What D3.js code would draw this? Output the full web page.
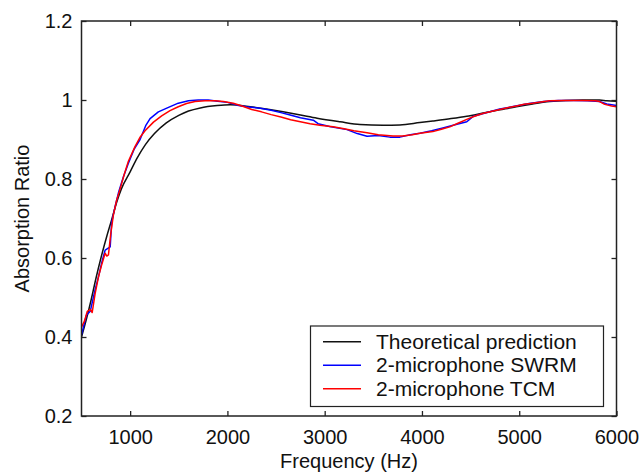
<!DOCTYPE html>
<html>
<head>
<meta charset="utf-8">
<script src="https://cdn.jsdelivr.net/npm/d3@7"></script>
<style>
  html, body { margin: 0; padding: 0; background: #fff; }
  svg { display: block; font-family: Arial, "Liberation Sans", Helvetica, sans-serif; }
</style>
</head>
<body>
<svg id="chart" width="642" height="476"></svg>
<script>
// ---- data ----
const xTicks = [1000, 2000, 3000, 4000, 5000, 6000];
const yTicks = [0.2, 0.4, 0.6, 0.8, 1.0, 1.2];
const yTickLabels = ["0.2", "0.4", "0.6", "0.8", "1", "1.2"];

const theoFreq = [500, 550, 600, 650, 705, 760, 808, 860, 910, 1000, 1070, 1157, 1250, 1372, 1500, 1600, 1721, 1895, 2029, 2234, 2400, 2573, 2750, 2922, 3158, 3363, 3600, 3773, 3979, 4112, 4300, 4461, 4630, 4800, 4970, 5138, 5313, 5480, 5651, 5826, 5900, 6000];
const theoVals = [0.40, 0.445, 0.495, 0.55, 0.605, 0.655, 0.695, 0.74, 0.775, 0.818, 0.852, 0.887, 0.915, 0.942, 0.961, 0.972, 0.980, 0.986, 0.988, 0.983, 0.977, 0.970, 0.962, 0.954, 0.945, 0.938, 0.936, 0.937, 0.943, 0.947, 0.953, 0.959, 0.967, 0.975, 0.983, 0.990, 0.996, 0.999, 1.0, 1.0, 0.998, 0.997];

const swrmFreq = [500, 520, 550, 590, 640, 675, 710, 743, 795, 810, 850, 880, 930, 982, 1040, 1102, 1160, 1205, 1290, 1400, 1495, 1600, 1700, 1803, 1900, 2000, 2100, 2200, 2337, 2450, 2550, 2645, 2750, 2883, 2932, 3050, 3230, 3335, 3435, 3550, 3670, 3773, 3880, 3979, 4100, 4215, 4350, 4461, 4523, 4650, 4800, 4950, 5100, 5250, 5400, 5550, 5700, 5826, 5900, 6000];
const swrmVals = [0.405, 0.425, 0.455, 0.465, 0.52, 0.553, 0.59, 0.62, 0.628, 0.69, 0.735, 0.765, 0.805, 0.84, 0.875, 0.9, 0.935, 0.953, 0.97, 0.982, 0.992, 0.998, 1.0, 1.0, 0.997, 0.994, 0.987, 0.983, 0.979, 0.974, 0.968, 0.962, 0.955, 0.949, 0.94, 0.933, 0.925, 0.915, 0.908, 0.91, 0.906, 0.906, 0.912, 0.916, 0.922, 0.929, 0.938, 0.945, 0.958, 0.967, 0.977, 0.984, 0.991, 0.996, 0.999, 0.999, 0.998, 0.996, 0.99, 0.986];

const tcmFreq = [500, 530, 560, 590, 610, 640, 675, 710, 743, 760, 777, 800, 828, 860, 897, 940, 982, 1050, 1100, 1153, 1240, 1324, 1410, 1495, 1580, 1667, 1770, 1872, 1960, 2060, 2150, 2250, 2350, 2450, 2550, 2650, 2750, 2850, 2950, 3086, 3200, 3300, 3435, 3550, 3702, 3800, 3900, 3979, 4112, 4200, 4286, 4370, 4461, 4540, 4625, 4710, 4800, 4890, 4974, 5050, 5138, 5220, 5313, 5450, 5651, 5780, 5826, 5870, 5910, 5950, 6000];
const tcmVals = [0.425, 0.44, 0.465, 0.47, 0.462, 0.51, 0.553, 0.585, 0.612, 0.605, 0.608, 0.66, 0.709, 0.745, 0.775, 0.812, 0.845, 0.882, 0.905, 0.922, 0.944, 0.960, 0.973, 0.983, 0.991, 0.996, 0.998, 0.998, 0.996, 0.992, 0.985, 0.976, 0.97, 0.963, 0.957, 0.95, 0.945, 0.94, 0.936, 0.932, 0.927, 0.922, 0.917, 0.912, 0.909, 0.909, 0.912, 0.916, 0.920, 0.926, 0.932, 0.941, 0.951, 0.959, 0.966, 0.971, 0.976, 0.981, 0.985, 0.989, 0.992, 0.995, 0.998, 0.999, 0.999, 0.998, 0.996, 0.99, 0.987, 0.985, 0.983];

const seriesNames = ["Theoretical prediction", "2-microphone SWRM", "2-microphone TCM"];
const seriesColors = ["#111111", "#0000ff", "#ff0000"];

// ---- layout ----
const svg = d3.select("#chart");
const L = 81.5, R = 616.5, T = 21, B = 416;
const x = d3.scaleLinear().domain([500, 6000]).range([L, R]);
const y = d3.scaleLinear().domain([0.2, 1.2]).range([B, T]);

const plot = svg.append("g");
plot.append("defs").append("clipPath").attr("id", "clip")
  .append("rect").attr("x", L).attr("y", T).attr("width", R - L).attr("height", B - T);

const smoothLine = d3.line().x(d => x(d[0])).y(d => y(d[1])).curve(d3.curveMonotoneX);
const rawLine = d3.line().x(d => x(d[0])).y(d => y(d[1]));
const datasets = [
  d3.zip(theoFreq, theoVals),
  d3.zip(swrmFreq, swrmVals),
  d3.zip(tcmFreq, tcmVals)
];
const lg = plot.append("g").attr("clip-path", "url(#clip)");
datasets.forEach((ds, i) => {
  lg.append("path").datum(ds)
    .attr("d", i === 0 ? smoothLine(ds) : rawLine(ds))
    .attr("fill", "none")
    .attr("stroke", seriesColors[i])
    .attr("stroke-width", 1.5)
    .attr("stroke-linejoin", "round");
});

// ---- axes (box with inward ticks on all sides) ----
const axisColor = "#222";
const tickLen = 5;
const axBottom = d3.axisBottom(x).tickValues(xTicks).tickSizeInner(-tickLen).tickSizeOuter(0).tickPadding(10).tickFormat(d3.format("d"));
const axTop = d3.axisTop(x).tickValues(xTicks).tickSizeInner(-tickLen).tickSizeOuter(0).tickFormat("");
const axLeft = d3.axisLeft(y).tickValues(yTicks).tickSizeInner(-tickLen).tickSizeOuter(0).tickPadding(9).tickFormat((d, i) => yTickLabels[i]);
const axRight = d3.axisRight(y).tickValues(yTicks).tickSizeInner(-tickLen).tickSizeOuter(0).tickFormat("");

function styleAxis(g) {
  g.select(".domain").remove();
  g.selectAll(".tick line").attr("stroke", axisColor).attr("stroke-width", 1.3);
  g.selectAll(".tick text").attr("fill", "#111").attr("font-size", 20).attr("font-family", "Arial, 'Liberation Sans', sans-serif");
}
svg.append("g").attr("transform", `translate(0,${B})`).call(axBottom).call(styleAxis)
  .selectAll(".tick text").attr("dy", "0.9em");
svg.append("g").attr("transform", `translate(0,${T})`).call(axTop).call(styleAxis);
svg.append("g").attr("transform", `translate(${L},0)`).call(axLeft).call(styleAxis);
svg.append("g").attr("transform", `translate(${R},0)`).call(axRight).call(styleAxis);

svg.append("rect").attr("x", L).attr("y", T).attr("width", R - L).attr("height", B - T)
  .attr("fill", "none").attr("stroke", axisColor).attr("stroke-width", 1.5);

// ---- axis titles ----
svg.append("text").attr("x", (L + R) / 2).attr("y", 468).attr("text-anchor", "middle")
  .attr("font-size", 20).attr("fill", "#111").text("Frequency (Hz)");
svg.append("text").attr("transform", `translate(29,${(T + B) / 2}) rotate(-90)`).attr("text-anchor", "middle")
  .attr("font-size", 20).attr("fill", "#111").text("Absorption Ratio");

// ---- legend ----
const leg = svg.append("g");
leg.append("rect").attr("x", 310.5).attr("y", 326).attr("width", 293).attr("height", 80.5)
  .attr("fill", "#fff").attr("stroke", "#222").attr("stroke-width", 1.2);
seriesNames.forEach((name, i) => {
  const cy = 341.7 + i * 23.5;
  leg.append("line").attr("x1", 323).attr("x2", 361).attr("y1", cy).attr("y2", cy)
    .attr("stroke", seriesColors[i]).attr("stroke-width", 1.6);
  leg.append("text").attr("x", 376).attr("y", cy + 7).attr("font-size", 21).attr("fill", "#111").text(name);
});
</script>
</body>
</html>
